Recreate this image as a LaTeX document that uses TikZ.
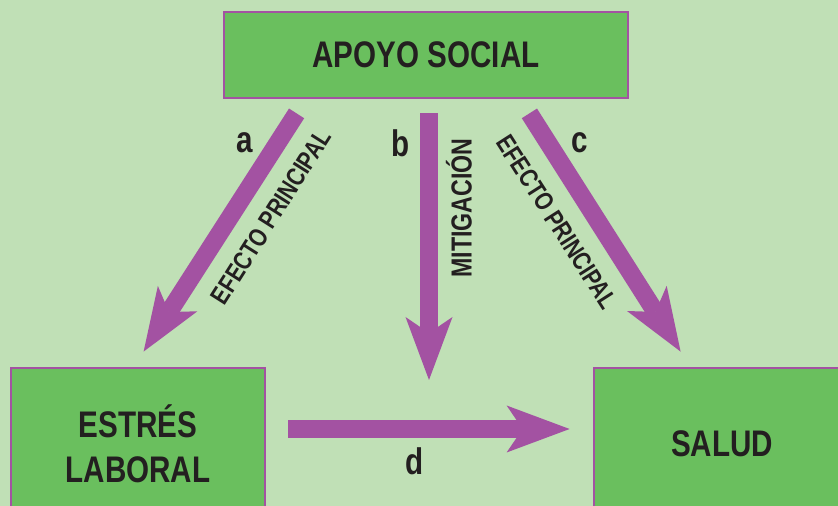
\documentclass[tikz,border=0pt]{standalone}
\usepackage{fontspec}
\setmainfont{Liberation Sans}[FakeStretch=0.8]
\usetikzlibrary{arrows.meta}
\definecolor{fondo}{RGB}{192,224,182}
\definecolor{verdecaja}{RGB}{106,191,94}
\definecolor{morado}{RGB}{163,82,162}
\definecolor{tinta}{RGB}{35,31,32}
\tikzset{%
  caja/.style     = {shape=rectangle, draw=morado, line width=2.8pt,%
                     fill=verdecaja, text=tinta, align=center, inner sep=0pt,%
                     font=\fontsize{37}{45}\selectfont\bfseries},%
  flecha/.style   = {draw=morado, line width=18pt,%
                     -{Stealth[length=63pt,width=47pt,inset=16pt,line width=0pt]}},%
  letra/.style    = {text=tinta, font=\fontsize{37}{44}\selectfont\bfseries},%
  efecto/.style   = {text=tinta, font=\fontsize{26}{30}\selectfont\bfseries}%
}

\begin{document}
\begin{tikzpicture}[x=1pt,y=1pt]
	\useasboundingbox (0,0) rectangle (838,506);
	\fill [fondo] (0,0) rectangle (838,506);
	\clip (0,0) rectangle (838,506);
	\node [caja, minimum width=404pt, minimum height=86pt] (apoyo) at (426,451) {APOYO SOCIAL};
	\node [caja, minimum width=254pt, minimum height=152pt] (estres) at (138,62) {ESTRÉS\\LABORAL};
	\node [caja, minimum width=256pt, minimum height=152pt] (salud) at (722,62) {SALUD};
	\coordinate (cruce) at (429,126);
	\draw [flecha] ([xshift=74pt,yshift=-14pt]apoyo.south west) -- ([xshift=134pt,yshift=15pt]estres.north west);
	\draw [flecha] ([xshift=3pt,yshift=-14pt]apoyo.south) -- (cruce);
	\draw [flecha] ([xshift=-100pt,yshift=-14pt]apoyo.south east) -- ([xshift=88pt,yshift=15pt]salud.north west);
	\draw [flecha] ([xshift=22pt,yshift=15pt]estres.east) -- ([xshift=-23pt,yshift=15pt]salud.west);
	\node [letra] (la) at (245,363) {a};
	\node [letra] (lb) at (401,363) {b};
	\node [letra] (lc) at (580,363) {c};
	\node [letra] (ld) at (415,45) {d};
	\node [efecto, rotate=57.6] (ea) at (271,289) {EFECTO PRINCIPAL};
	\node [efecto, rotate=90, font=\fontsize{29}{32}\selectfont\bfseries] (eb) at (459,298) {MITIGACIÓN};
	\node [efecto, rotate=-57.4] (ec) at (557,284) {EFECTO PRINCIPAL};
\end{tikzpicture}
\end{document}
